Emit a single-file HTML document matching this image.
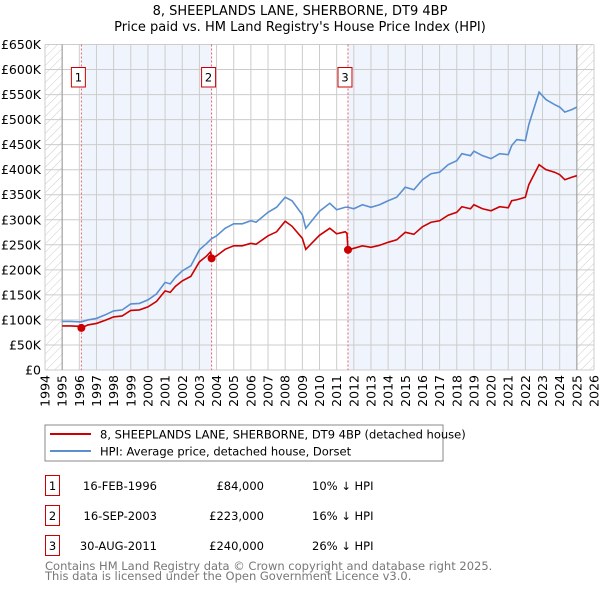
<!DOCTYPE html>
<html><head><meta charset="utf-8"><style>
body{margin:0;background:#fff}
svg text{font-family:"DejaVu Sans","Liberation Sans",sans-serif}
</style></head><body>
<svg id="c" width="600" height="590" xmlns="http://www.w3.org/2000/svg">
<defs><pattern id="h" width="6" height="6" patternUnits="userSpaceOnUse" patternTransform="rotate(45)"><line x1="0" y1="0" x2="0" y2="6" stroke="#ccc" stroke-width="1"/></pattern></defs>
<text x="300" y="15" text-anchor="middle" font-size="13">8, SHEEPLANDS LANE, SHERBORNE, DT9 4BP</text>
<text x="300" y="31" text-anchor="middle" font-size="13">Price paid vs. HM Land Registry's House Price Index (HPI)</text>
<g id="plot"></g>
<rect x="45" y="425" width="398" height="36" fill="#fff" stroke="#888"/>
<line x1="50" y1="434" x2="91" y2="434" stroke="#cc0000" stroke-width="2"/>
<text x="100" y="438.5" font-size="11.5">8, SHEEPLANDS LANE, SHERBORNE, DT9 4BP (detached house)</text>
<line x1="50" y1="451" x2="91" y2="451" stroke="#5b8fd0" stroke-width="2"/>
<text x="100" y="455.5" font-size="11.5">HPI: Average price, detached house, Dorset</text>
<g font-size="11.5">
<rect x="45.5" y="475.5" width="14" height="20" fill="none" stroke="#c00"/><text x="52.5" y="490" text-anchor="middle">1</text>
<text x="157" y="490" text-anchor="end">16-FEB-1996</text><text x="264" y="490" text-anchor="end">£84,000</text><text x="312" y="490">10% ↓ HPI</text>
<rect x="45.5" y="505.5" width="14" height="20" fill="none" stroke="#c00"/><text x="52.5" y="520" text-anchor="middle">2</text>
<text x="157" y="520" text-anchor="end">16-SEP-2003</text><text x="264" y="520" text-anchor="end">£223,000</text><text x="312" y="520">16% ↓ HPI</text>
<rect x="45.5" y="535.5" width="14" height="20" fill="none" stroke="#c00"/><text x="52.5" y="550" text-anchor="middle">3</text>
<text x="157" y="550" text-anchor="end">30-AUG-2011</text><text x="264" y="550" text-anchor="end">£240,000</text><text x="312" y="550">26% ↓ HPI</text>
</g>
<text x="45" y="570" font-size="11.5" fill="#777">Contains HM Land Registry data © Crown copyright and database right 2025.</text>
<text x="45" y="580" font-size="11.5" fill="#777">This data is licensed under the Open Government Licence v3.0.</text>
</svg>
<script>
const yTicks=[0,50,100,150,200,250,300,350,400,450,500,550,600,650];
const yTickLabels=["£0","£50K","£100K","£150K","£200K","£250K","£300K","£350K","£400K","£450K","£500K","£550K","£600K","£650K"];
const xYears=[1994,1995,1996,1997,1998,1999,2000,2001,2002,2003,2004,2005,2006,2007,2008,2009,2010,2011,2012,2013,2014,2015,2016,2017,2018,2019,2020,2021,2022,2023,2024,2025,2026];
const hpiT=[1995,1995.5,1996.1,1996.5,1997,1997.5,1998,1998.5,1999,1999.5,2000,2000.5,2001,2001.3,2001.6,2002,2002.5,2003,2003.4,2003.7,2004,2004.5,2005,2005.5,2006,2006.3,2007,2007.5,2008,2008.4,2009,2009.2,2009.6,2010,2010.6,2011,2011.5,2011.66,2012,2012.5,2013,2013.5,2014,2014.5,2015,2015.5,2016,2016.5,2017,2017.5,2018,2018.3,2018.8,2019,2019.5,2020,2020.5,2021,2021.2,2021.5,2022,2022.2,2022.8,2023.2,2023.7,2024,2024.3,2024.7,2025];
const hpiV=[97,97,96,100,103,110,118,120,132,133,140,152,175,172,185,198,208,240,252,262,268,283,292,292,298,295,315,325,345,338,310,283,300,317,333,320,325,325,322,330,325,330,338,345,365,360,380,392,395,410,418,432,428,437,428,422,432,430,448,460,458,490,555,540,530,525,515,520,525];
const priceT=[1995,1995.5,1996.1,1996.13,1996.5,1997,1997.5,1998,1998.5,1999,1999.5,2000,2000.5,2001,2001.3,2001.6,2002,2002.5,2003,2003.4,2003.65,2003.71,2004,2004.5,2005,2005.5,2006,2006.3,2007,2007.5,2008,2008.4,2009,2009.2,2009.6,2010,2010.6,2011,2011.5,2011.6,2011.66,2012,2012.5,2013,2013.5,2014,2014.5,2015,2015.5,2016,2016.5,2017,2017.5,2018,2018.3,2018.8,2019,2019.5,2020,2020.5,2021,2021.2,2021.5,2022,2022.2,2022.8,2023.2,2023.7,2024,2024.3,2024.7,2025];
const priceV=[88,88,87,84,90,93,99,106,108,119,120,126,137,158,155,167,178,187,216,227,236,223,228,241,248,248,253,251,268,276,297,287,263,241,255,269,283,272,276,273,240,243,248,245,249,255,260,275,271,286,295,298,309,315,326,322,330,322,318,326,324,338,340,345,370,410,400,395,390,380,385,388];
const saleT=[1996.12,2003.71,2011.66];
const saleV=[84,223,240];
const saleLabels=["1","2","3"];

const NS="http://www.w3.org/2000/svg";
const X0=45,X1=594,Y0=370,Y1=44.5;
const x=t=>X0+(t-1994)*(X1-X0)/32;
const y=v=>Y0-v*(Y0-Y1)/650;
const g=document.getElementById('plot');
function el(tag,attrs){const e=document.createElementNS(NS,tag);for(const k in attrs)e.setAttribute(k,attrs[k]);g.appendChild(e);return e;}
let r;
r=el('rect',{x:x(1995),y:Y1,width:x(2025)-x(1995),height:Y0-Y1,fill:'#fff'});


r=el('rect',{x:x(saleT[0]),y:Y1,width:x(saleT[1])-x(saleT[0]),height:Y0-Y1,fill:'#f0f5fd'});


r=el('rect',{x:x(saleT[2]),y:Y1,width:x(2025)-x(saleT[2]),height:Y0-Y1,fill:'#f0f5fd'});


r=el('rect',{x:X0,y:Y1,width:x(1995)-X0,height:Y0-Y1,fill:'url(#h)'});


r=el('rect',{x:x(2025),y:Y1,width:X1-x(2025),height:Y0-Y1,fill:'url(#h)'});


yTicks.forEach((v,i)=>{
 const l=el('line',{x1:X0,x2:X1,y1:y(v),y2:y(v),stroke:'#ccc'});
 
 
 const t=el('text',{x:41,y:y(v)+4.5,'text-anchor':'end','font-size':'12.5'});t.textContent=yTickLabels[i];
 
 
});
xYears.forEach(yr=>{
 const l=el('line',{x1:x(yr),x2:x(yr),y1:Y1,y2:Y0,stroke:'#ccc'});
 
 
 const t=el('text',{x:0,y:0,'text-anchor':'end','font-size':'12.5',transform:`translate(${x(yr)+4.5},375) rotate(-90)`});t.textContent=yr;
 
 
});
r=el('line',{x1:x(1995),x2:x(1995),y1:Y1,y2:Y0,stroke:'#999'});


r=el('line',{x1:x(2025),x2:x(2025),y1:Y1,y2:Y0,stroke:'#999'});


saleT.forEach((t,i)=>{
 const l=el('line',{x1:x(t),x2:x(t),y1:Y1,y2:Y0,stroke:'#e06070','stroke-dasharray':'2,2'});
 
 
 const b=el('rect',{x:x(t)-10,y:67.5,width:14,height:19.5,fill:'#fff',stroke:'#c00'});
 
 
 const tx=el('text',{x:x(t)-3,y:81.5,'text-anchor':'middle','font-size':'11.5'});tx.textContent=saleLabels[i];
 
 
});
let p=el('polyline',{points:hpiT.map((t,i)=>x(t)+','+y(hpiV[i])).join(' '),fill:'none',stroke:'#5b8fd0','stroke-width':1.6});


p=el('polyline',{points:priceT.map((t,i)=>x(t)+','+y(priceV[i])).join(' '),fill:'none',stroke:'#cc0000','stroke-width':1.6});


saleT.forEach((t,i)=>{
 const c=el('circle',{cx:x(t),cy:y(saleV[i]),r:4,fill:'#cc0000'});
 
 
});
</script>
</body></html>
